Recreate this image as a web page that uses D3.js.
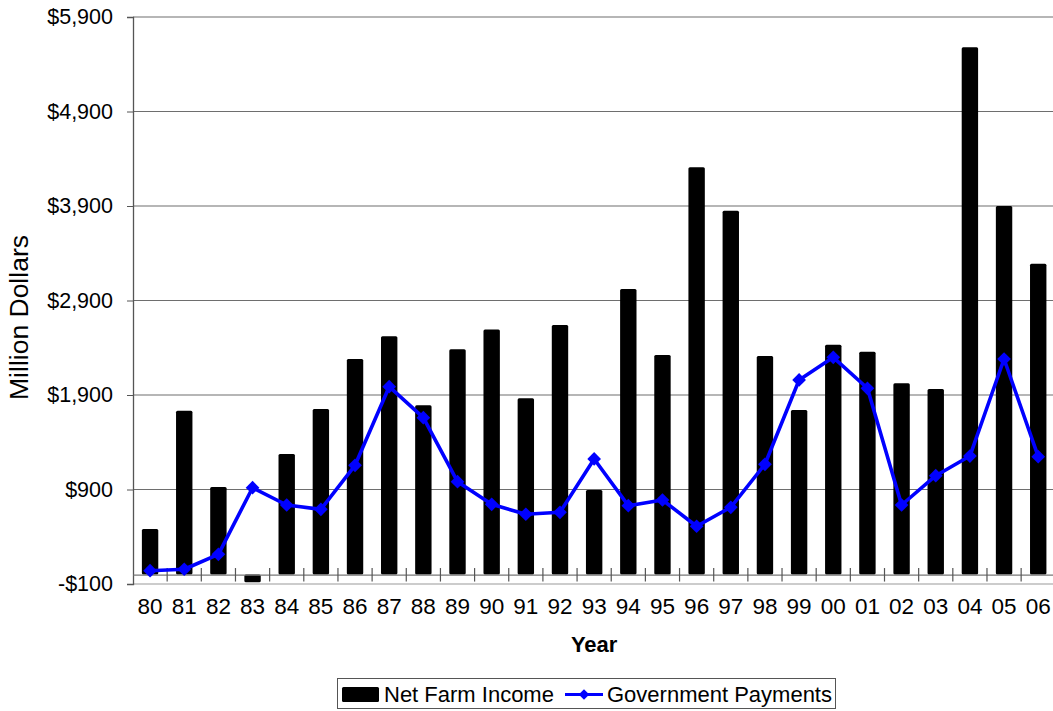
<!DOCTYPE html>
<html>
<head>
<meta charset="utf-8">
<script src="https://cdn.jsdelivr.net/npm/d3@7"></script>
<style>
  html, body { margin: 0; padding: 0; background: #fff; }
  svg { display: block; }
  text { font-family: "Liberation Sans", Arial, sans-serif; fill: #000; }
</style>
</head>
<body>
<svg id="chart" width="1053" height="711"></svg>
<script>
const years = ["80","81","82","83","84","85","86","87","88","89","90","91","92","93","94","95","96","97","98","99","00","01","02","03","04","05","06"];
const netFarmIncome = [482,1734,926,-82,1276,1752,2282,2522,1791,2384,2593,1865,2642,895,3023,2323,4310,3849,2313,1741,2432,2358,2024,1963,5580,3900,3288];
const govPayments = [41,56,214,919,736,690,1156,1988,1660,983,743,638,659,1223,729,789,511,712,1167,2059,2299,1971,736,1046,1254,2281,1247];
const yTicks = [-100,900,1900,2900,3900,4900,5900];
const seriesNames = ["Net Farm Income","Government Payments"];

const svg = d3.select("#chart");
const pL = 133, pR = 1055.3, pT = 17, pB = 584;

const x = d3.scaleBand().domain(years).range([pL, pR]).padding(0);
const y = d3.scaleLinear().domain([-100, 5900]).range([pB, pT]);
const fmt = v => (v < 0 ? "-$" : "$") + d3.format(",")(Math.abs(v));

// gridlines
svg.append("g").selectAll("line").data(yTicks).join("line")
  .attr("x1", pL).attr("x2", pR)
  .attr("y1", d => y(d)).attr("y2", d => y(d))
  .attr("stroke", d => d === -100 ? "#9a9a9a" : "#6e6e6e").attr("stroke-width", 1.2);

// y axis
const yAxis = d3.axisLeft(y).tickValues(yTicks).tickFormat(fmt).tickSize(6).tickPadding(14);
const gy = svg.append("g").attr("transform", `translate(${pL},0)`).call(yAxis);
gy.select(".domain").attr("stroke", "#555").attr("stroke-width", 1.3);
gy.selectAll(".tick line").attr("stroke", "#555");
gy.selectAll(".tick text").style("font-size", "21.5px").attr("fill", "#000");

// bars
const bw = x.bandwidth() * 0.48;
svg.append("g").selectAll("rect").data(netFarmIncome).join("rect")
  .attr("x", (d, i) => x(years[i]) + (x.bandwidth() - bw) / 2)
  .attr("width", bw)
  .attr("y", d => Math.min(y(d), y(0)))
  .attr("height", d => Math.abs(y(d) - y(0)))
  .attr("rx", 1.5)
  .attr("fill", "#000");

// category axis at zero
const xAxis = d3.axisBottom(x).tickSize(0).tickFormat(d => d);
const gx = svg.append("g").attr("transform", `translate(0,${y(0)})`).call(xAxis);
gx.select(".domain").attr("stroke", "#777").attr("stroke-width", 1.2);
gx.selectAll(".tick text").attr("y", 39.5 - 22*0.716).attr("dy", "0.716em").style("font-size", "22.5px").attr("fill", "#000");
// tick marks between categories
svg.append("g").selectAll("line").data(years.slice(1)).join("line")
  .attr("x1", d => x(d)).attr("x2", d => x(d))
  .attr("y1", y(0) - 6.5).attr("y2", y(0) + 7)
  .attr("stroke", "#555").attr("stroke-width", 1.2);

// line series
const cx = (i) => x(years[i]) + x.bandwidth() / 2;
const line = d3.line().x((d, i) => cx(i)).y(d => y(d));
svg.append("path").datum(govPayments)
  .attr("d", line).attr("fill", "none")
  .attr("stroke", "#0000ff").attr("stroke-width", 3.6).attr("stroke-linejoin", "round");
const diamond = d3.symbol().type(d3.symbolDiamond2).size(120);
svg.append("g").selectAll("path").data(govPayments).join("path")
  .attr("d", diamond)
  .attr("transform", (d, i) => `translate(${cx(i)},${y(d)})`)
  .attr("fill", "#0000ff");

// axis titles
svg.append("text")
  .attr("transform", `translate(28,317.5) rotate(-90)`)
  .attr("text-anchor", "middle")
  .style("font-size", "26.5px")
  .text("Million Dollars");
svg.append("text")
  .attr("x", (pL + pR) / 2).attr("y", 652)
  .attr("text-anchor", "middle")
  .style("font-size", "22px").style("font-weight", "bold")
  .text("Year");

// legend
const lg = svg.append("g");
lg.append("rect").attr("x", 337.5).attr("y", 678.5).attr("width", 498).attr("height", 30)
  .attr("fill", "#fff").attr("stroke", "#555").attr("stroke-width", 1);
lg.append("rect").attr("x", 342).attr("y", 687).attr("width", 37).attr("height", 15).attr("rx", 1.5).attr("fill", "#000");
lg.append("text").attr("x", 384).attr("y", 702).style("font-size", "22px").text(seriesNames[0]);
lg.append("line").attr("x1", 565).attr("x2", 603).attr("y1", 694.5).attr("y2", 694.5)
  .attr("stroke", "#0000ff").attr("stroke-width", 3.2);
lg.append("path").attr("d", d3.symbol().type(d3.symbolDiamond2).size(70)).attr("transform", "translate(584,694.5)").attr("fill", "#0000ff");
lg.append("text").attr("x", 607).attr("y", 702).style("font-size", "22px").text(seriesNames[1]);
</script>
</body>
</html>
